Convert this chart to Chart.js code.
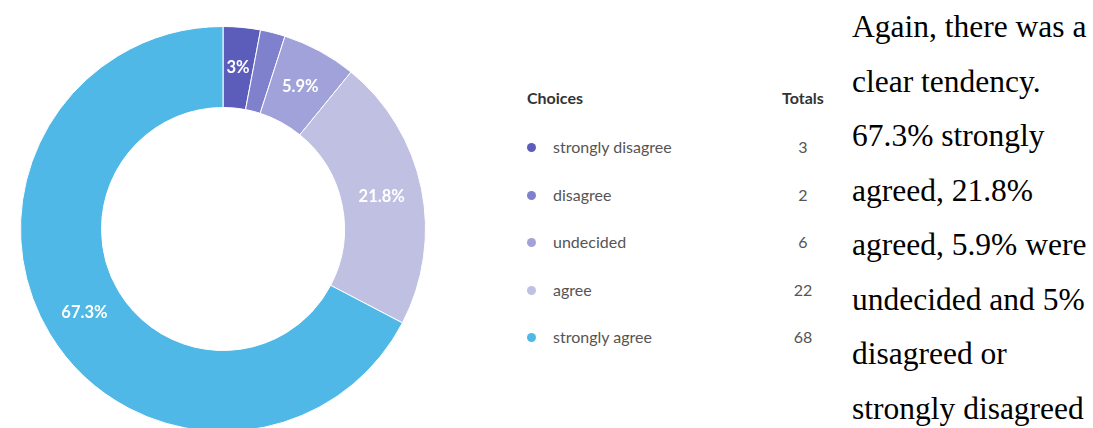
<!DOCTYPE html>
<html>
<head>
<meta charset="utf-8">
<script src="https://cdn.jsdelivr.net/npm/chart.js@4"></script>
<style>
    body { margin: 0; width: 1093px; height: 428px; overflow: hidden; background: #fff; position: relative; }
    #chartBox { position: absolute; left: 0; top: 0; width: 446px; height: 458px; }
    #legend { position: absolute; left: 527px; top: 88px; width: 310px; font-family: Lato, sans-serif; }
    #legend .head { position: relative; height: 20px; line-height: 20px; font-size: 16px; font-weight: bold; color: #333; }
    #legend .head .tot { position: absolute; left: 255px; top: 0; }
    #legend .row { position: relative; height: 47.5px; line-height: 20px; font-size: 16px; color: #555; }
    #legend .dot { position: absolute; left: 0; top: 6px; width: 9px; height: 9px; border-radius: 50%; }
    #legend .lbl { position: absolute; left: 26px; top: 0; }
    #legend .num { position: absolute; left: 256px; top: 0; width: 40px; text-align: center; }
    #text { position: absolute; left: 852px; top: 0; font-family: "Liberation Serif", "Times New Roman", serif; font-size: 31.5px; line-height: 54.5px; color: #000; white-space: nowrap; }
</style>
</head>
<body>
<div id="chartBox"><canvas id="choiceChart" width="446" height="458"></canvas></div>
<div id="legend"></div>
<div id="text">Again, there was a<br>clear tendency.<br>67.3% strongly<br>agreed, 21.8%<br>agreed, 5.9% were<br>undecided and 5%<br>disagreed or<br>strongly disagreed</div>
<script>
const choices = ['strongly disagree', 'disagree', 'undecided', 'agree', 'strongly agree'];
const totals = [3, 2, 6, 22, 68];
const colors = ['#5c5dbb', '#8081cc', '#a2a2da', '#c0c0e3', '#4fb8e6'];

document.addEventListener('DOMContentLoaded', function() {
    // legend table built from the same arrays
    const legend = document.getElementById('legend');
    let html = '<div class="head">Choices<span class="tot">Totals</span></div>';
    html += '<div style="height:29px"></div>';
    choices.forEach((c, i) => {
        html += `<div class="row"><span class="dot" style="background:${colors[i]}"></span>` +
            `<span class="lbl">${c}</span><span class="num">${totals[i]}</span></div>`;
    });
    legend.innerHTML = html;

    const sum = totals.reduce((a, b) => a + b, 0);

    const sliceLabels = {
        id: 'sliceLabels',
        afterDatasetsDraw(chart) {
            const ctx = chart.ctx;
            const meta = chart.getDatasetMeta(0);
            ctx.save();
            ctx.fillStyle = '#fff';
            ctx.font = 'bold 16.5px Lato, sans-serif';
            ctx.textAlign = 'center';
            ctx.textBaseline = 'middle';
            meta.data.forEach((arc, i) => {
                const pct = totals[i] / sum * 100;
                if (pct < 2.5) return;
                const p = arc.getCenterPoint();
                const txt = (Math.round(pct * 10) / 10).toString() + '%';
                ctx.fillText(txt, p.x, p.y);
            });
            ctx.restore();
        }
    };

    const ctx = document.getElementById('choiceChart').getContext('2d');
    new Chart(ctx, {
        type: 'doughnut',
        data: {
            labels: choices,
            datasets: [{
                data: totals,
                backgroundColor: colors,
                borderColor: '#fff',
                borderWidth: 1
            }]
        },
        options: {
            responsive: false,
            animation: false,
            cutout: '60%',
            layout: { padding: 20 },
            plugins: {
                legend: { display: false },
                tooltip: { enabled: false }
            }
        },
        plugins: [sliceLabels]
    });
});
</script>
</body>
</html>
